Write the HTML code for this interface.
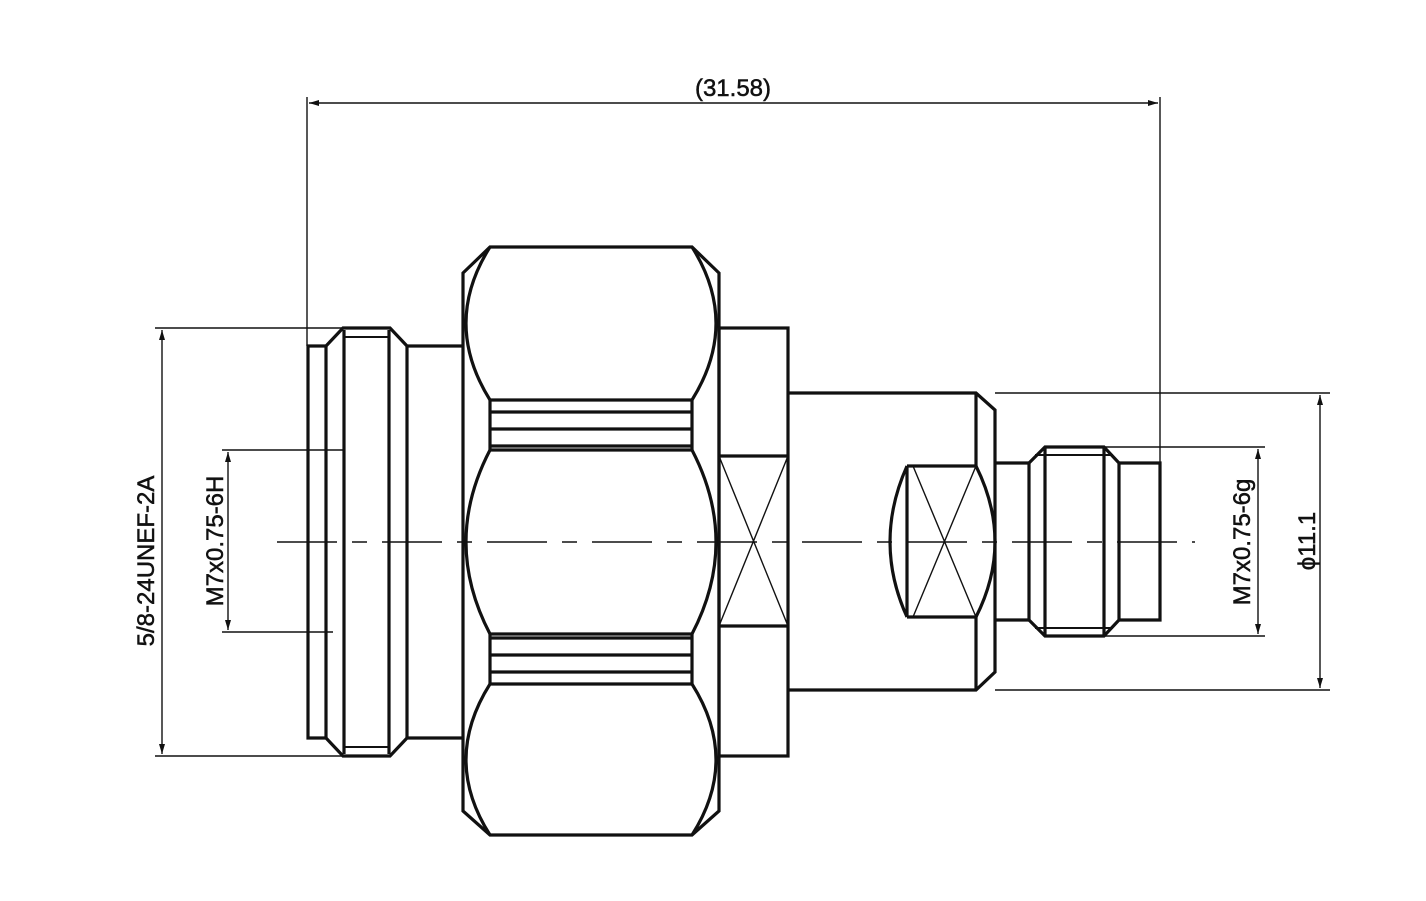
<!DOCTYPE html>
<html><head><meta charset="utf-8"><style>
html,body{margin:0;padding:0;background:#fff;}
svg{display:block;}
text{font-family:"Liberation Sans",sans-serif;font-size:24px;fill:#111;stroke:#111;stroke-width:0.5;}
</style></head><body>
<svg width="1426" height="901" viewBox="0 0 1426 901" xmlns="http://www.w3.org/2000/svg">
<defs>
<marker id="a" viewBox="0 0 10 6" refX="10" refY="3" markerWidth="10" markerHeight="6" orient="auto-start-reverse" markerUnits="userSpaceOnUse"><path d="M0,0 L10,3 L0,6Z" fill="#111"/></marker>
</defs>
<g fill="none" stroke="#111" stroke-linejoin="miter">
<line x1="277" y1="542" x2="1195" y2="542" stroke-width="1.6" stroke-dasharray="60,15,15,15"/>

<g stroke-width="1.4">
<line x1="307" y1="97" x2="307" y2="346"/>
<line x1="1160" y1="97" x2="1160" y2="463"/>
<line x1="309" y1="103" x2="1158" y2="103" marker-start="url(#a)" marker-end="url(#a)"/>
<line x1="155" y1="328" x2="343" y2="328"/>
<line x1="155" y1="756" x2="390" y2="756"/>
<line x1="162" y1="330" x2="162" y2="754" marker-start="url(#a)" marker-end="url(#a)"/>
<line x1="222" y1="450" x2="343" y2="450"/>
<line x1="222" y1="632" x2="333" y2="632"/>
<line x1="228" y1="452" x2="228" y2="630" marker-start="url(#a)" marker-end="url(#a)"/>
<line x1="995" y1="393" x2="1330" y2="393"/>
<line x1="995" y1="690" x2="1330" y2="690"/>
<line x1="1320" y1="395" x2="1320" y2="688" marker-start="url(#a)" marker-end="url(#a)"/>
<line x1="1104" y1="447" x2="1265" y2="447"/>
<line x1="1104" y1="636" x2="1265" y2="636"/>
<line x1="1258" y1="449" x2="1258" y2="634" marker-start="url(#a)" marker-end="url(#a)"/>
</g>

<g stroke-width="3.2">
<path d="M463,346 L407,346 L390,328 L343,328 L326,346 L308,346 L308,738 L326,738 L343,756 L390,756 L407,738 L463,738"/>
<line x1="326" y1="346" x2="326" y2="738"/>
<line x1="344" y1="330" x2="344" y2="754"/>
<line x1="389" y1="330" x2="389" y2="754"/>
<line x1="407" y1="346" x2="407" y2="738"/>
<line x1="343" y1="337" x2="390" y2="337" stroke-width="2"/>
<line x1="343" y1="747" x2="390" y2="747" stroke-width="2"/>

<path d="M463,273 L490,247 L692,247 L719,273 L719,811 L692,835 L490,835 L463,811 Z"/>
<path d="M490,247 Q442,323 490,400"/>
<path d="M692,247 Q740,323 692,400"/>
<path d="M490,450 Q442,542 490,634"/>
<path d="M692,450 Q740,542 692,634"/>
<path d="M490,684 Q442,760 490,835"/>
<path d="M692,684 Q740,760 692,835"/>
<line x1="490" y1="400" x2="490" y2="450"/><line x1="692" y1="400" x2="692" y2="450"/>
<line x1="490" y1="634" x2="490" y2="684"/><line x1="692" y1="634" x2="692" y2="684"/>
<line x1="490" y1="400" x2="692" y2="400"/>
<line x1="490" y1="412" x2="692" y2="412"/>
<line x1="490" y1="429" x2="692" y2="429"/>
<line x1="490" y1="446" x2="692" y2="446"/>
<line x1="490" y1="450" x2="692" y2="450"/>
<line x1="490" y1="634" x2="692" y2="634"/>
<line x1="490" y1="638" x2="692" y2="638"/>
<line x1="490" y1="655" x2="692" y2="655"/>
<line x1="490" y1="672" x2="692" y2="672"/>
<line x1="490" y1="684" x2="692" y2="684"/>

<rect x="719" y="328" width="69" height="428"/>
<line x1="719" y1="456" x2="788" y2="456"/>
<line x1="719" y1="626" x2="788" y2="626"/>

<path d="M788,393 L976,393 L995,410 L995,672 L976,690 L788,690"/>
<line x1="976" y1="393" x2="976" y2="466"/>
<line x1="976" y1="617" x2="976" y2="690"/>
<path d="M907,466 L976,466 M907,617 L976,617"/>
<line x1="907" y1="466" x2="907" y2="617"/>
<path d="M907,466 Q873,542 907,617"/>
<path d="M976,466 Q1014,542 976,617"/>

<path d="M995,463 L1029,463 L1029,620 L995,620"/>
<path d="M1029,463 L1045,447 L1104,447 L1119,463 L1119,620 L1104,636 L1045,636 L1029,620"/>
<line x1="1045" y1="447" x2="1045" y2="636"/>
<line x1="1104" y1="447" x2="1104" y2="636"/>
<line x1="1035" y1="455" x2="1113" y2="455" stroke-width="2"/>
<line x1="1035" y1="628" x2="1113" y2="628" stroke-width="2"/>
<path d="M1119,463 L1160,463 L1160,620 L1119,620"/>
</g>

<g stroke-width="1.4">
<line x1="719" y1="456" x2="788" y2="626"/>
<line x1="788" y1="456" x2="719" y2="626"/>
<line x1="913" y1="466" x2="976" y2="617"/>
<line x1="976" y1="466" x2="913" y2="617"/>
</g>
</g>

<text x="733" y="96" text-anchor="middle">(31.58)</text>
<text transform="translate(154,561) rotate(-90)" text-anchor="middle">5/8-24UNEF-2A</text>
<text transform="translate(223,541) rotate(-90)" text-anchor="middle">M7x0.75-6H</text>
<text transform="translate(1250,542) rotate(-90)" text-anchor="middle">M7x0.75-6g</text>
<text transform="translate(1315,541) rotate(-90)" text-anchor="middle">ϕ11.1</text>
</svg>
</body></html>
